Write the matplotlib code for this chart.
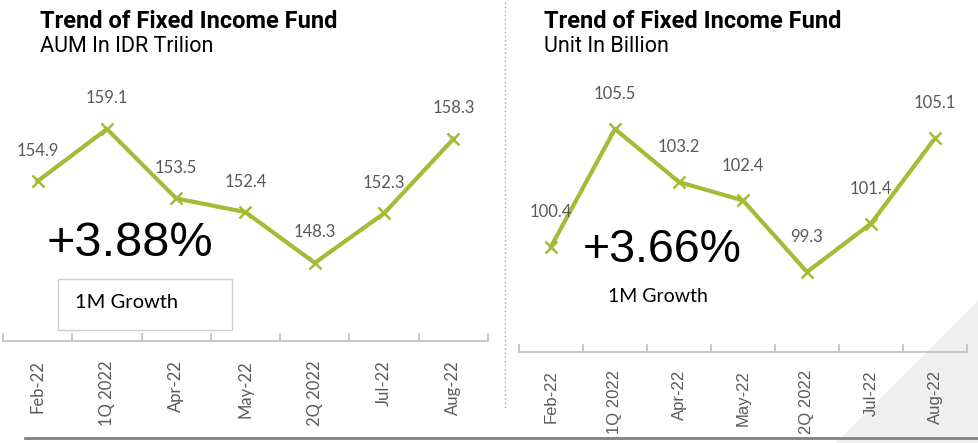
import matplotlib
matplotlib.use('Agg')
import matplotlib.pyplot as plt
from matplotlib.patches import Polygon, Rectangle
from matplotlib.lines import Line2D

# Data
categories = ['Feb-22', '1Q 2022', 'Apr-22', 'May-22', '2Q 2022', 'Jul-22', 'Aug-22']
aum = [154.9, 159.1, 153.5, 152.4, 148.3, 152.3, 158.3]
units = [100.4, 105.5, 103.2, 102.4, 99.3, 101.4, 105.1]
aum_growth = '+3.88%'
unit_growth = '+3.66%'

W, H = 979, 443
GREEN = '#A2BC35'
GRAY_TXT = '#595959'

fig = plt.figure(figsize=(W / 100, H / 100), dpi=100)


def fx(x):
    return x / W


def fy(y):
    return 1 - y / H


# page curl shading in the bottom right corner (behind everything)
fig.patches.append(Polygon([(fx(836), fy(443)), (fx(979), fy(300)), (fx(979), fy(443))],
                           closed=True, transform=fig.transFigure, facecolor='#efefef',
                           edgecolor='none', zorder=-5))


def draw_panel(rect, values, ylim, label_off, tick_font, label_pad):
    ax = fig.add_axes(rect)
    ax.set_facecolor('none')
    x = list(range(len(values)))
    ax.plot(x, values, color=GREEN, lw=3, marker='x', ms=8, mew=1.8, zorder=3)
    for i, v in enumerate(values):
        ax.annotate(f'{v:.1f}', (i, v), xytext=(0, label_off), textcoords='offset points',
                    ha='center', va='center', fontsize=12, color=GRAY_TXT, family='Lato')
    ax.set_xlim(-0.5, len(values) - 0.5)
    ax.set_ylim(*ylim)
    for s in ['top', 'left', 'right']:
        ax.spines[s].set_visible(False)
    ax.spines['bottom'].set_color('#bfbfbf')
    ax.spines['bottom'].set_linewidth(1.2)
    ax.set_yticks([])
    ax.set_xticks(x)
    ax.set_xticklabels(categories, rotation=90, fontsize=12, color=GRAY_TXT, family=tick_font,
                       va='top')
    ax.tick_params(axis='x', which='major', length=0, pad=label_pad)
    ax.set_xticks([i - 0.5 for i in range(len(values) + 1)], minor=True)
    ax.tick_params(axis='x', which='minor', direction='in', length=6, color='#bfbfbf', width=1.2)
    return ax


# left panel: AUM
draw_panel([fx(3), fy(341), fx(485), (341 - 90) / H], aum, (142.0, 162.25), 22, 'Lato', 14)
# right panel: units
draw_panel([fx(519), fy(352), fx(448), (352 - 90) / H], units, (95.83, 107.19), 25,
           'Liberation Sans', 13)

# titles
fig.text(fx(40), fy(21), 'Trend of Fixed Income Fund', fontsize=17, fontweight='bold',
         family='Roboto', va='center')
fig.text(fx(40), fy(46), 'AUM In IDR Trilion', fontsize=15.5, family='Roboto', va='center')
fig.text(fx(544), fy(21), 'Trend of Fixed Income Fund', fontsize=17, fontweight='bold',
         family='Roboto', va='center')
fig.text(fx(544), fy(46), 'Unit In Billion', fontsize=15.5, family='Roboto', va='center')

# growth callouts
fig.text(fx(47), fy(244), aum_growth, fontsize=35, family='Liberation Sans', va='center')
fig.patches.append(Rectangle((fx(58), fy(330)), fx(174), 51 / H, transform=fig.transFigure,
                             facecolor='white', edgecolor='#d0d0d0', lw=1, zorder=1))
fig.text(fx(75), fy(302), '1M Growth', fontsize=14.5, family='Lato', va='center', zorder=2)
fig.text(fx(583), fy(250), unit_growth, fontsize=33.5, family='Liberation Sans', va='center')
fig.text(fx(608), fy(296), '1M Growth', fontsize=14, family='Lato', va='center')

# separators
fig.lines.append(Line2D([fx(505), fx(505)], [fy(2), fy(410)], transform=fig.transFigure,
                        color='#a6a6a6', lw=1, linestyle=(0, (1, 2))))
fig.lines.append(Line2D([fx(25), fx(979)], [fy(438), fy(438)], transform=fig.transFigure,
                        color='#808080', lw=2))

fig.savefig('out.png', dpi=100)
